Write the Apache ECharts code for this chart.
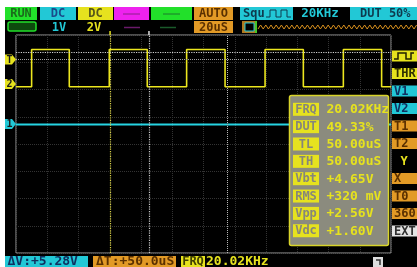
<!DOCTYPE html>
<html><head><meta charset="utf-8">
<script src="https://cdn.jsdelivr.net/npm/echarts@6/dist/echarts.min.js"></script>
<style>html,body{margin:0;padding:0;background:#fff;}#c{width:417px;height:267px;}</style>
</head><body><div id="c"></div>
<script>
// ---- data ----
const ch2Edges = [10.0, 34.1, 59.7, 84.0, 109.2, 133.8, 159.4, 183.9, 209.5, 234.0]; // us, rise/fall alternating
const ch2High = 3.47;   // divisions
const ch2Low = 2.10;
const ch1Level = 0.72;
const ch1Marker = 0.73, ch2Marker = 2.20, trigMarker = 3.10;
const cursorTimes = [85.1, 135.0];
const trigTime = 60.2;
const hLevels = [3.38, 3.12];
const timeRange = [0, 240];
const divRange = [-4, 4];
const measLabels = ['FRQ','DUT','TL','TH','Vbt','RMS','Vpp','Vdc'];
const measValues = ['20.02KHz','49.33%','50.00uS','50.00uS','+4.65V','+320 mV','+2.56V','+1.60V'];
const menuLabels = ['', 'THR','V1','V2','T1','T2','Y','X','T0','360','EXT'];
const statusTop = ['RUN','DC','DC','AUTO','Squ','20KHz','DUT 50%'];
const statusSub = ['1V','2V','20uS'];
const statusBottom = ['ΔV:+5.28V','ΔT:+50.0uS','FRQ','20.02KHz'];

// ---- build series ----
const ch2Data = [[timeRange[0], ch2Low]];
let lvl = ch2Low;
ch2Edges.forEach(t => { ch2Data.push([t, lvl]); lvl = (lvl === ch2Low) ? ch2High : ch2Low; ch2Data.push([t, lvl]); });
ch2Data.push([timeRange[1], lvl]);
const ch1Data = [[timeRange[0], ch1Level], [timeRange[1], ch1Level]];

const FONT = '"DejaVu Sans Mono", monospace';
const YEL = '#e6e21e', CYA = '#22c8d6', ORG = '#e29a26', GRN = '#22e02a', MAG = '#ee22ee';
const g = [];
function rect(x, y, w, h, fill, extra) { g.push(Object.assign({type:'rect', shape:{x, y, width:w, height:h}, style:{fill}, z:10}, extra||{})); }
function text(x, y, t, fill, size, align) {
  g.push({type:'text', x, y, z:12, style:{text:t, fill, font:'bold ' + size + 'px ' + FONT, align: align||'left', verticalAlign:'middle'}});
}
function line(pts, stroke, lw, z) { g.push({type:'polyline', shape:{points:pts}, style:{stroke, lineWidth:lw||1, fill:null}, z:z||12}); }

// white margins
rect(0, 0, 417, 7, '#ffffff');
rect(0, 0, 5, 267, '#ffffff');

// top status row
rect(5, 7, 32, 13, GRN); text(21, 14, statusTop[0], '#1b6a1b', 12, 'center');
rect(40, 7, 36, 13, CYA); text(58, 14, statusTop[1], '#1a4a8a', 12, 'center');
rect(78, 7, 35, 13, YEL); text(95.5, 14, statusTop[2], '#55551a', 12, 'center');
rect(114, 7, 35, 13, MAG); line([[123,14],[140,14]], '#8a208a', 1);
rect(151, 7, 41, 13, GRN); line([[163,14],[180,14]], '#1a7a2a', 1);
rect(194, 7, 39, 13, ORG); text(213.5, 14, statusTop[3], '#5a3000', 12, 'center');
rect(240, 7, 53, 13, CYA); text(243, 14, statusTop[4], '#0e3a4e', 12);
line([[266,17],[270,17],[270,10],[276,10],[276,17],[281,17],[281,10],[287,10],[287,17],[291,17]], '#0e3a4e', 1);
text(320, 14, statusTop[5], CYA, 12.5, 'center');
rect(350, 7, 67, 13, CYA); text(360, 14, statusTop[6], '#0e3a4e', 12);

// second row
rect(8, 22, 28, 9, '#0d4a0d', {shape:{x:8,y:22,width:28,height:9,r:2}, style:{fill:'#0d4a0d', stroke:GRN, lineWidth:1.5}});
text(59, 27.5, statusSub[0], CYA, 12, 'center');
text(94, 27.5, statusSub[1], YEL, 12, 'center');
line([[124,27.5],[140,27.5]], '#6a1a6a', 1.5);
line([[160,27.5],[176,27.5]], '#1a5a2a', 1.5);
rect(194, 21, 39, 12, ORG); text(213.5, 27.5, statusSub[2], '#5a3000', 12, 'center');
rect(242, 21, 15, 12, '#b07a20');
g.push({type:'rect', shape:{x:245,y:23,width:9,height:8}, style:{fill:'#000', stroke:CYA, lineWidth:1}, z:11});
line([[256,21],[256,33]], GRN, 1.5);
const zz = []; for (let x = 258, k = 0; x <= 417; x += 2.6, k++) zz.push([x, k % 2 ? 25 : 29]);
line(zz, '#d8901e', 1);

// measurement panel
const rowY = measLabels.map((_, i) => 109.3 + 17.35 * i);
g.push({type:'rect', shape:{x:289.5, y:95.5, width:99, height:150, r:2}, style:{fill:'#8b8b7e', stroke:'#d8d42a', lineWidth:1.5}, z:20});
measLabels.forEach((lab, i) => {
  g.push({type:'rect', shape:{x:293, y:rowY[i]-6.5, width:26, height:13}, style:{fill:YEL}, z:21});
  g.push({type:'text', x:306, y:rowY[i]+0.5, z:22, style:{text:lab, fill:'#86867a', font:'bold 12px ' + FONT, align:'center', verticalAlign:'middle'}});
  g.push({type:'text', x:326.5, y:rowY[i]+0.5, z:22, style:{text:measValues[i], fill:YEL, font:'bold 13px ' + FONT, align:'left', verticalAlign:'middle'}});
});

// right menu
const menuBg = [YEL, YEL, CYA, CYA, ORG, ORG, null, ORG, ORG, ORG, '#e4e4e4'];
const menuFg = ['#202000', '#303000', '#103060', '#103060', '#5a3000', '#5a3000', YEL, '#5a3000', '#5a3000', '#5a3000', '#303030'];
menuLabels.forEach((lab, i) => {
  const cy = 56 + 17.5 * i;
  if (menuBg[i]) rect(392, cy - 5.5, 25, 11, menuBg[i]);
  if (i === 0) line([[394,cy+3],[398,cy+3],[398,cy-3],[406,cy-3],[406,cy+3],[411,cy+3],[411,cy-3],[414,cy-3]], '#202000', 1.5);
  else text(i === 6 ? 404 : 394, cy + 0.5, lab, menuFg[i], 12, i === 6 ? 'center' : 'left');
});

// bottom bar
rect(5, 256, 83, 11, CYA); text(7.5, 262, statusBottom[0], '#103060', 13);
rect(93, 256, 83, 11, ORG); text(96, 262, statusBottom[1], '#5a3000', 13);
rect(181, 256, 24, 11, YEL); text(193, 262, statusBottom[2], '#404000', 12, 'center');
text(206, 262, statusBottom[3], YEL, 13);
rect(373, 257, 10, 10, '#dddddd');
line([[376,260],[380,260],[380,265]], '#333', 1.5);

const chart = echarts.init(document.getElementById('c'), null, {renderer:'canvas'});
const option = {
  backgroundColor: '#000',
  animation: false,
  grid: {left:16, top:35, width:375, height:218, show:true, borderColor:'#9a9a9a', borderWidth:1, backgroundColor:'transparent'},
  xAxis: {type:'value', min:timeRange[0], max:timeRange[1], interval:20, axisLine:{show:false}, axisTick:{show:false}, axisLabel:{show:false},
          splitLine:{show:true, lineStyle:{color:'#333333', type:'dotted', width:1}}},
  yAxis: {type:'value', min:divRange[0], max:divRange[1], interval:1, axisLine:{show:false}, axisTick:{show:false}, axisLabel:{show:false},
          splitLine:{show:true, lineStyle:{color:'#333333', type:'dotted', width:1}}},
  series: [
    {type:'line', data:ch1Data, symbol:'none', lineStyle:{color:'#26d4e2', width:2}, z:3,
     markLine:{silent:true, symbol:'none', label:{show:false}, animation:false,
       data:[
         {xAxis:trigTime, lineStyle:{color:'#d8d040', type:'dotted', width:1.2}},
         {xAxis:cursorTimes[0], lineStyle:{color:'#c8c8c8', type:'dotted', width:1.2}},
         {xAxis:cursorTimes[1], lineStyle:{color:'#b8b8b8', type:'dotted', width:1}},
         {yAxis:hLevels[0], lineStyle:{color:'#d0d0d0', type:'dotted', width:1.2}},
         {yAxis:hLevels[1], lineStyle:{color:'#a0a0a0', type:'dotted', width:1}}
       ]}},
    {type:'line', data:ch2Data, symbol:'none', lineStyle:{color:'#ece61e', width:1.6}, z:4}
  ],
  graphic: {elements: g}
};
chart.setOption(option);

// channel markers on left, placed through the axis scales
function marker(level, label, fill) {
  const y = chart.convertToPixel({yAxisIndex:0}, level);
  return [
    {type:'polygon', shape:{points:[[5,y-5],[12,y-5],[16,y],[12,y+5],[5,y+5]]}, style:{fill}, z:15},
    {type:'text', x:9.5, y:y+0.5, z:16, style:{text:label, fill:'#1a1a1a', font:'bold 10px ' + FONT, align:'center', verticalAlign:'middle'}}
  ];
}
const xs = cursorTimes.concat([trigTime]).map(t => chart.convertToPixel({xAxisIndex:0}, t));
const extra = [].concat(marker(trigMarker, 'T', YEL), marker(ch2Marker, '2', YEL), marker(ch1Marker, '1', CYA),
  [{type:'polyline', shape:{points:[[xs[2],31],[xs[2],35]]}, style:{stroke:YEL, lineWidth:1.5}, z:15},
   {type:'polyline', shape:{points:[[xs[0],31],[xs[0],35]]}, style:{stroke:'#ddd', lineWidth:1.5}, z:15}]);
chart.setOption({graphic:{elements: g.concat(extra)}}, {replaceMerge:['graphic']});
</script></body></html>
